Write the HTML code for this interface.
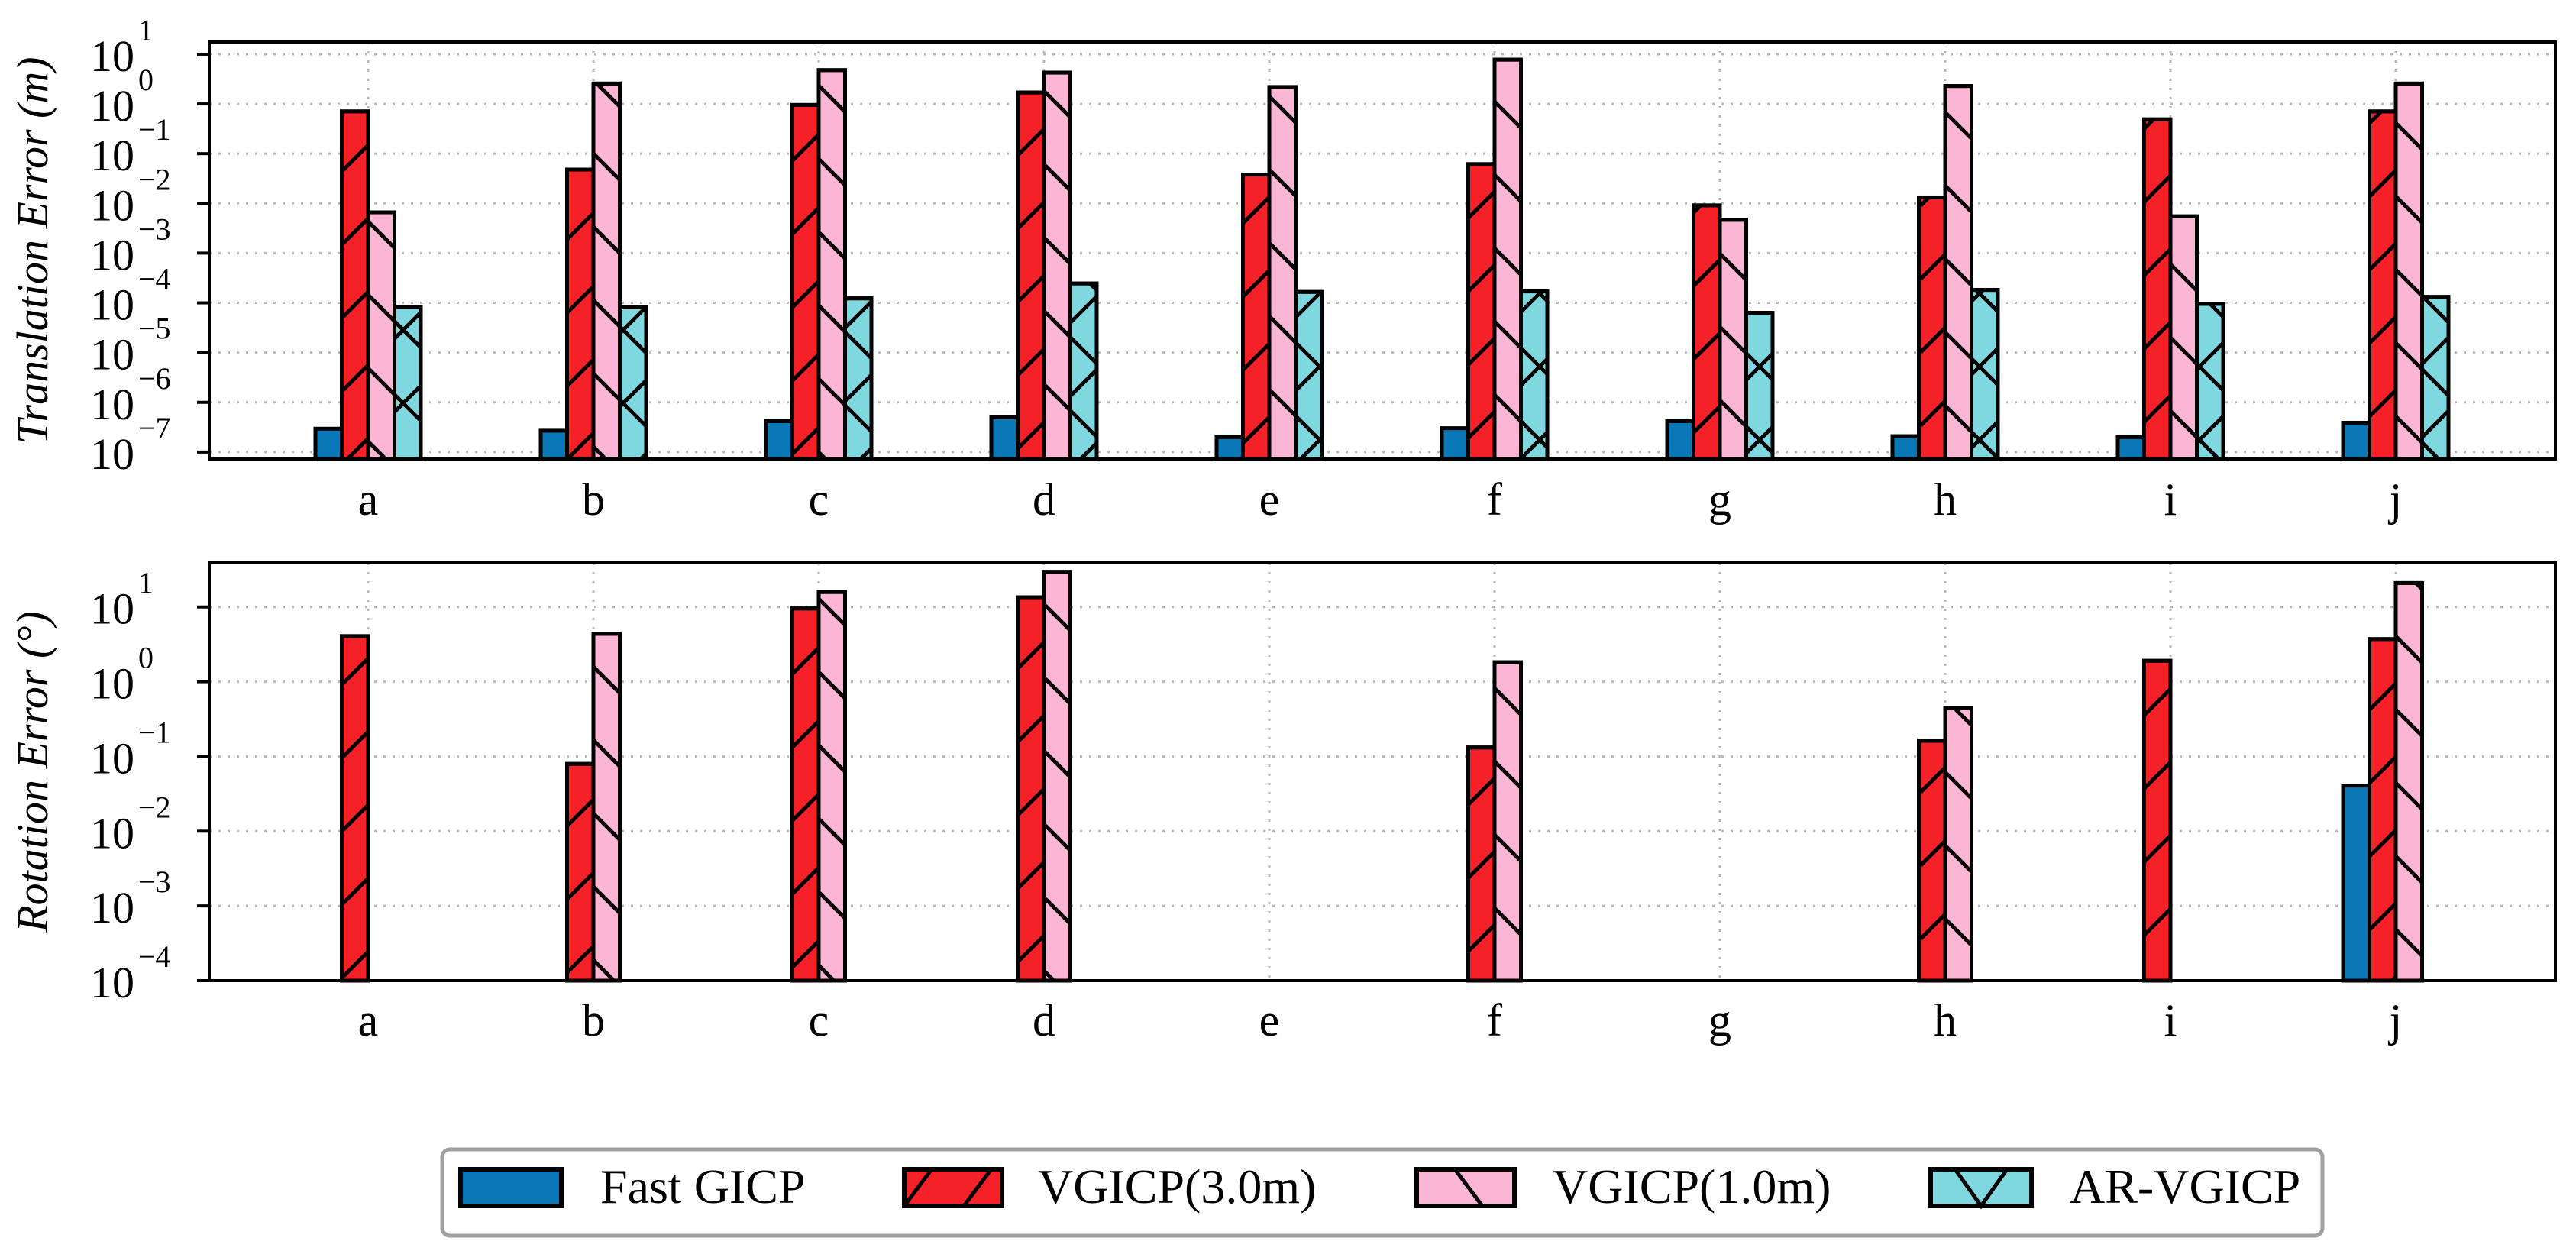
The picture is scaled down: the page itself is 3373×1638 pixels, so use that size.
<!DOCTYPE html>
<html><head><meta charset="utf-8"><style>
html,body{margin:0;padding:0;background:#fff;}
svg{display:block;}
text{font-family:"Liberation Serif",serif;fill:#000;}
</style></head><body>
<svg id="chart" width="3373" height="1638" viewBox="0 0 3373 1638" xmlns="http://www.w3.org/2000/svg">
<defs>
<pattern id="hatch-fwd" patternUnits="userSpaceOnUse" width="96" height="96">
<path d="M-10,106 L106,-10 M-58,58 L58,-58 M38,154 L154,38" stroke="#000" stroke-width="5"/>
</pattern>
<pattern id="hatch-back" patternUnits="userSpaceOnUse" width="96" height="96">
<path d="M-10,-10 L106,106 M-58,38 L58,154 M38,-58 L154,58" stroke="#000" stroke-width="5"/>
</pattern>
<pattern id="hatch-x" patternUnits="userSpaceOnUse" width="96" height="96">
<path d="M-10,106 L106,-10 M-58,58 L58,-58 M38,154 L154,38 M-10,-10 L106,106 M-58,38 L58,154 M38,-58 L154,58" stroke="#000" stroke-width="5"/>
</pattern>
</defs>
<g id="top"></g>
<g id="bot"></g>
<g id="legend">
<rect x="579" y="1505" width="2462" height="113" rx="10" fill="#fff" stroke="#a0a0a0" stroke-width="5"/>
<g><rect x="603" y="1531" width="132" height="48" fill="#0a77b6" stroke="#000" stroke-width="6"/><text x="786" y="1575" font-size="64">Fast GICP</text></g>
<g><rect x="1184" y="1531" width="128" height="48" fill="#f52128" stroke="#000" stroke-width="6"/><path d="M1184,1579 L1220,1531 M1262,1579 L1298,1531" stroke="#000" stroke-width="5"/><text x="1359" y="1575" font-size="64">VGICP(3.0m)</text></g>
<g><rect x="1855" y="1531" width="128" height="48" fill="#fbb5d5" stroke="#000" stroke-width="6"/><path d="M1905,1531 L1941,1579" stroke="#000" stroke-width="5"/><text x="2033" y="1575" font-size="64">VGICP(1.0m)</text></g>
<g><rect x="2528" y="1531" width="132" height="48" fill="#7fd8e0" stroke="#000" stroke-width="6"/><path d="M2560,1531 L2594,1579 L2628,1531" stroke="#000" stroke-width="5" fill="none"/><text x="2710" y="1575" font-size="64">AR-VGICP</text></g>
</g>
</svg>
<script>
const categories = ['a','b','c','d','e','f','g','h','i','j'];
const seriesNames = ['Fast GICP','VGICP(3.0m)','VGICP(1.0m)','AR-VGICP'];
// log10 values, translation error (m)
const transFast = [-6.53,-6.57,-6.38,-6.30,-6.70,-6.52,-6.38,-6.68,-6.70,-6.41];
const transV3 = [-0.15,-1.32,-0.02,0.23,-1.42,-1.21,-2.04,-1.88,-0.31,-0.15];
const transV1 = [-2.18,0.41,0.68,0.63,0.34,0.89,-2.33,0.36,-2.26,0.41];
const transAR = [-4.08,-4.09,-3.91,-3.61,-3.78,-3.77,-4.20,-3.74,-4.02,-3.88];
// log10 values, rotation error (deg); null = not shown
const rotFast = [null,null,null,null,null,null,null,null,null,-1.39];
const rotV3 = [0.61,-1.10,0.98,1.13,null,-0.88,null,-0.79,0.28,0.57];
const rotV1 = [null,0.64,1.20,1.47,null,0.26,null,-0.35,null,1.32];
const rotAR = [null,null,null,null,null,null,null,null,null,null];
const topTicks = [1,0,-1,-2,-3,-4,-5,-6,-7];
const botTicks = [1,0,-1,-2,-3,-4];

const NS='http://www.w3.org/2000/svg';
function mk(tag,attrs,parent){const e=document.createElementNS(NS,tag);for(const k in attrs)e.setAttribute(k,attrs[k]);parent.appendChild(e);return e;}
const fills=['#0a77b6','#f52128','#fbb5d5','#7fd8e0'];
const hatches=[null,'url(#hatch-fwd)','url(#hatch-back)','url(#hatch-x)'];
const L=274,R=3346,c0=482,step=295,bw=34.5;
function xC(i){return c0+i*step;}

function panel(g,top,bottom,ymin,ymax,series,ticks,title,labelY,slug){
  const y=v=>bottom-(v-ymin)/(ymax-ymin)*(bottom-top);
  // grid
  ticks.forEach(t=>{const l=mk('line',{x1:L,x2:R,y1:y(t),y2:y(t),stroke:'#b8b8b8','stroke-width':3,'stroke-dasharray':'3,9'},g);
    
    });
  categories.forEach((c,i)=>{const l=mk('line',{x1:xC(i),x2:xC(i),y1:top,y2:bottom,stroke:'#b8b8b8','stroke-width':3,'stroke-dasharray':'3,9'},g);
    
    });
  // bars
  series.forEach((arr,s)=>{arr.forEach((v,i)=>{if(v===null)return;
    const x=xC(i)-2*bw+s*bw, yt=y(v);
    const b=mk('rect',{x:x,y:yt,width:bw,height:bottom-yt,fill:fills[s],stroke:'#000','stroke-width':5},g);
    
    
    if(hatches[s]){const h=mk('rect',{x:x,y:yt,width:bw,height:bottom-yt,fill:hatches[s],stroke:'#000','stroke-width':5},g);
      
      }
  });});
  // frame
  const f=mk('rect',{x:L,y:top,width:R-L,height:bottom-top,fill:'none',stroke:'#000','stroke-width':4},g);
  
  
  // y ticks
  ticks.forEach(t=>{const yy=y(t);
    mk('line',{x1:258,x2:L,y1:yy,y2:yy,stroke:'#000','stroke-width':4},g);
    const tx=mk('text',{x:176,y:yy+22,'font-size':58,'text-anchor':'end'},g);
    tx.textContent='10';
    
    
    const ex=mk('text',{x:181,y:yy-18,'font-size':40},g);
    ex.textContent=(t<0?'\u2212'+(-t):String(t));
    
    });
  // x labels
  categories.forEach((c,i)=>{const tx=mk('text',{x:xC(i),y:labelY,'font-size':60,'text-anchor':'middle'},g);
    tx.textContent=c;
    
    });
  const cy=(top+bottom)/2;
  const tt=mk('text',{x:62,y:cy,'font-size':58,'font-style':'italic','text-anchor':'middle',transform:'rotate(-90 62 '+cy+')'},g);
  tt.textContent=title;
  
  
}
panel(document.getElementById('top'),55,601,-7.14,1.245,[transFast,transV3,transV1,transAR],topTicks,'Translation Error (m)',674,'trans');
panel(document.getElementById('bot'),737,1284,-4,1.59,[rotFast,rotV3,rotV1,rotAR],botTicks,'Rotation Error (\u00B0)',1356,'rot');
</script>
</body></html>
